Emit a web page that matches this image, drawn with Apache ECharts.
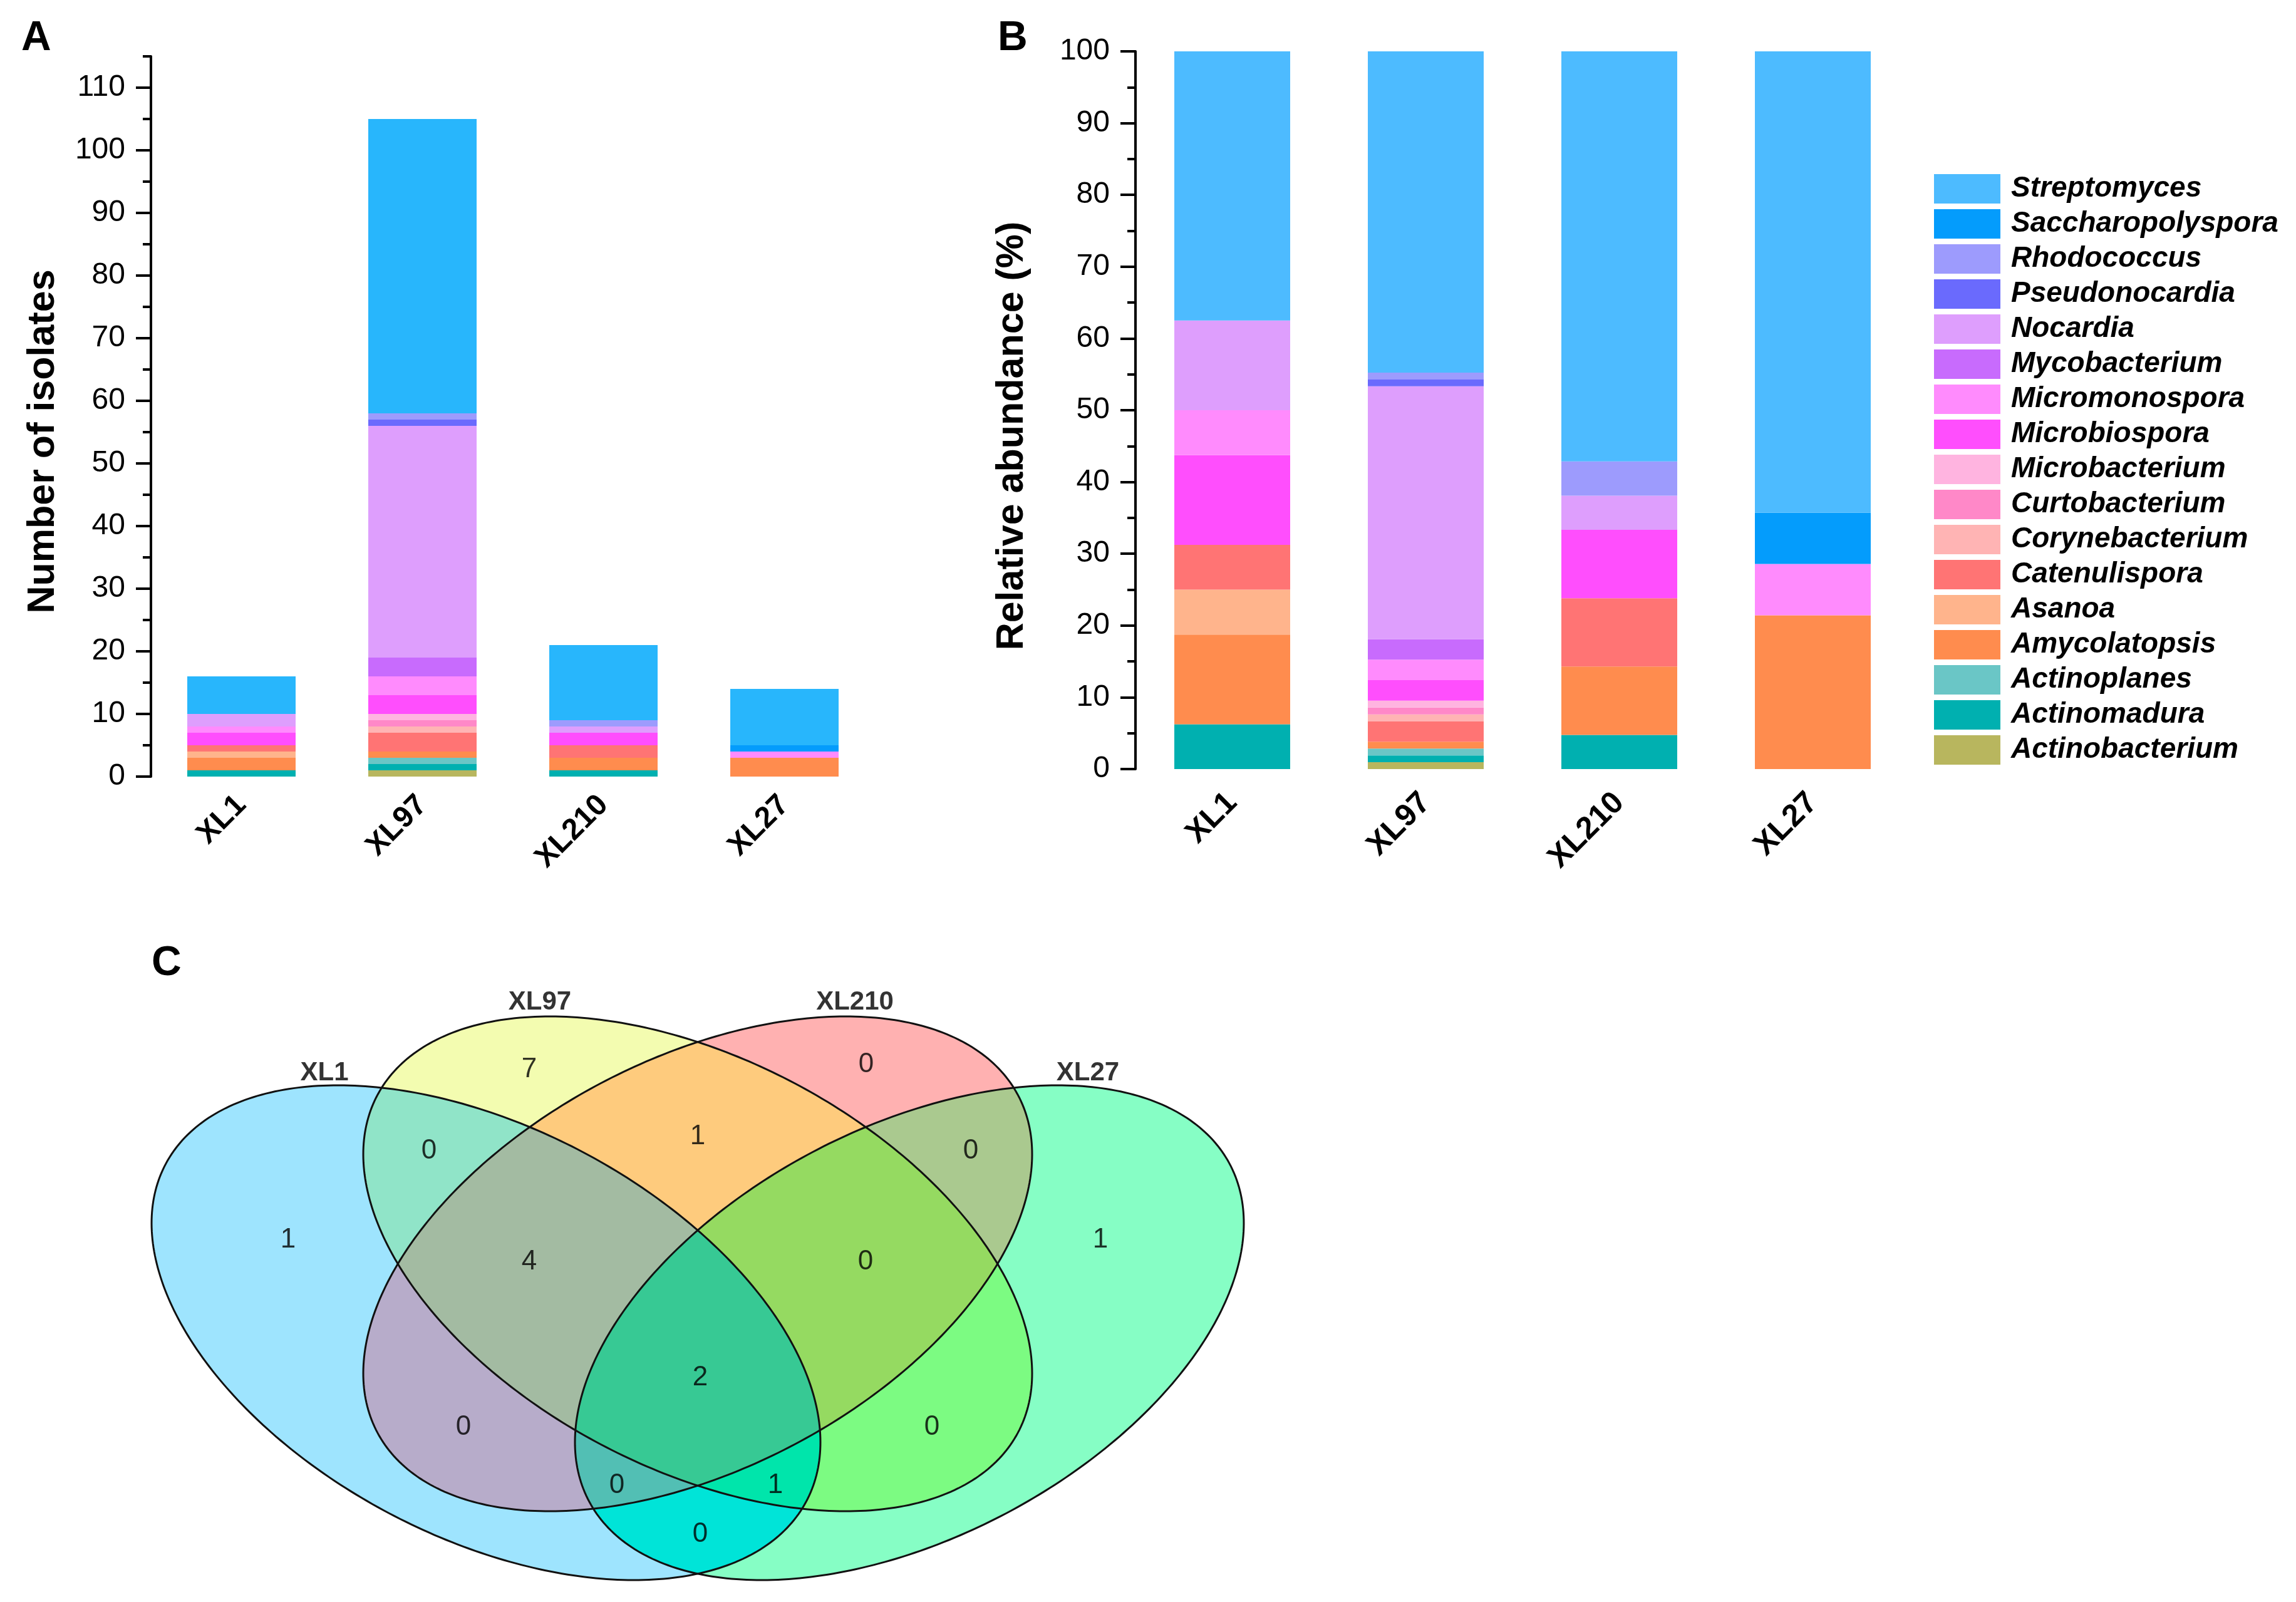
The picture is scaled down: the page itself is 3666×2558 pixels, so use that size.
<!DOCTYPE html>
<html><head><meta charset="utf-8">
<script src="https://cdn.jsdelivr.net/npm/echarts@6/dist/echarts.min.js"></script>
<style>html,body{margin:0;padding:0;background:#fff}#c{width:3666px;height:2558px}</style>
</head><body><div id="c"></div>
<script>
// ---------------- data ----------------
const samples = ['XL1', 'XL97', 'XL210', 'XL27'];
const genera = ['Actinobacterium','Actinomadura','Actinoplanes','Amycolatopsis','Asanoa','Catenulispora','Corynebacterium','Curtobacterium','Microbacterium','Microbiospora','Micromonospora','Mycobacterium','Nocardia','Pseudonocardia','Rhodococcus','Saccharopolyspora','Streptomyces'];
// number of isolates per sample (XL1, XL97, XL210, XL27)
const Actinobacterium   = [0, 1, 0, 0];
const Actinomadura      = [1, 1, 1, 0];
const Actinoplanes      = [0, 1, 0, 0];
const Amycolatopsis     = [2, 1, 2, 3];
const Asanoa            = [1, 0, 0, 0];
const Catenulispora     = [1, 3, 2, 0];
const Corynebacterium   = [0, 1, 0, 0];
const Curtobacterium    = [0, 1, 0, 0];
const Microbacterium    = [0, 1, 0, 0];
const Microbiospora     = [2, 3, 2, 0];
const Micromonospora    = [1, 3, 0, 1];
const Mycobacterium     = [0, 3, 0, 0];
const Nocardia          = [2, 37, 1, 0];
const Pseudonocardia    = [0, 1, 0, 0];
const Rhodococcus       = [0, 1, 1, 0];
const Saccharopolyspora = [0, 0, 0, 1];
const Streptomyces      = [6, 47, 12, 9];
const isolateCounts = [Actinobacterium, Actinomadura, Actinoplanes, Amycolatopsis, Asanoa, Catenulispora, Corynebacterium, Curtobacterium, Microbacterium, Microbiospora, Micromonospora, Mycobacterium, Nocardia, Pseudonocardia, Rhodococcus, Saccharopolyspora, Streptomyces];

const yTicksA = [0, 10, 20, 30, 40, 50, 60, 70, 80, 90, 100, 110];
const yTicksB = [0, 10, 20, 30, 40, 50, 60, 70, 80, 90, 100];

// Venn (shared genera)
const vennSetNames = ['XL1', 'XL97', 'XL210', 'XL27'];
const vennRegionSets = [[0],[1],[2],[3],[0,1],[1,2],[2,3],[0,1,2],[1,2,3],[0,1,2,3],[0,2],[1,3],[0,2,3],[0,1,3],[0,3]];
const vennRegionCounts = [1, 7, 0, 1, 0, 1, 0, 4, 0, 2, 0, 0, 0, 1, 0];

// ---------------- styles / layout ----------------
const FONT = "'Liberation Sans', Arial, Helvetica, sans-serif";
const NUMFONT = "'Liberation Sans Narrow', 'Arial Narrow', 'Liberation Sans', Arial, sans-serif";
const colorB = {
  Streptomyces:'#4DBBFF', Saccharopolyspora:'#049CFC', Rhodococcus:'#9D9BFD', Pseudonocardia:'#6A6AFD',
  Nocardia:'#DE9EFD', Mycobacterium:'#C86BFD', Micromonospora:'#FF8BFD', Microbiospora:'#FF4EFD',
  Microbacterium:'#FFB4E0', Curtobacterium:'#FF88C8', Corynebacterium:'#FFB4B4', Catenulispora:'#FF7474',
  Asanoa:'#FFB48C', Amycolatopsis:'#FF8C4E', Actinoplanes:'#6AC6C6', Actinomadura:'#00B0B0', Actinobacterium:'#B8B65E'
};
const colorA = Object.assign({}, colorB, { Streptomyces: '#28B6FC' });

const vennRegionColors = ['#9EE4FE','#F3FCB0','#FFB1B1','#86FEC5','#90E4C8','#FECB7D','#AAC98F','#A3BBA2','#95DA61','#37C994','#B7ACCA','#7CFB82','#52BFB4','#00E5AB','#00E4D8'];
// ellipse layout in the Venn's unit square
const vennCx = [0.331, 0.5, 0.5, 0.669];
const vennCy = [0.4957, 0.57, 0.57, 0.4957];
const vennAng = [135, 135, 45, 45];
const vennSemiA = 0.3207, vennSemiB = 0.1993;
const vennLabelPos = [[0.173,0.596],[0.3655,0.7795],[0.6345,0.785],[0.8215,0.596],[0.2855,0.6916],[0.5,0.7072],[0.718,0.6916],[0.3655,0.572],[0.634,0.572],[0.502,0.447],[0.313,0.3936],[0.687,0.3936],[0.4355,0.3308],[0.562,0.3308],[0.502,0.278]];
const vennNamePos = [[0.202,0.776],[0.374,0.852],[0.6255,0.852],[0.8115,0.776]];
const VENN_VMIN = 0.21, VENN_VMAX = 1.0, VENN_SY = 1479.6;

// ---------------- derived ----------------
const totals = samples.map((s, j) => isolateCounts.reduce((acc, arr) => acc + arr[j], 0));
const percent = isolateCounts.map(arr => arr.map((v, j) => v / totals[j] * 100));

const maskColor = {};
vennRegionSets.forEach((sets, i) => { let m = 0; sets.forEach(k => m |= (1 << k)); maskColor[m] = vennRegionColors[i]; });

const TH = vennAng.map(d => d * Math.PI / 180);
function ellipseSpan(k, v) {
  const c = Math.cos(TH[k]), s = Math.sin(TH[k]);
  const ia = 1 / (vennSemiA * vennSemiA), ib = 1 / (vennSemiB * vennSemiB);
  const A = c * c * ia + s * s * ib, B = c * s * (ia - ib), C = s * s * ia + c * c * ib;
  const dv = v - vennCy[k];
  const disc = (B * dv) * (B * dv) - A * (C * dv * dv - 1);
  if (disc <= 0) return null;
  const r = Math.sqrt(disc);
  return [vennCx[k] + (-B * dv - r) / A, vennCx[k] + (-B * dv + r) / A];
}
const Eu = Math.sqrt((vennSemiA * vennSemiA + vennSemiB * vennSemiB) / 2);
const vMin = Math.min.apply(null, vennCy) - Eu, vMax = Math.max.apply(null, vennCy) + Eu;

function renderRegions(params, api) {
  const o = api.coord([0, 0]), q = api.coord([1, 1]);
  const kx = q[0] - o[0], ky = q[1] - o[1];
  const children = [];
  const yStart = Math.floor(api.coord([0, vMax])[1]) - 1;
  const yEnd = Math.ceil(api.coord([0, vMin])[1]) + 1;
  for (let y = yStart; y <= yEnd; y++) {
    const v = (y + 0.5 - o[1]) / ky;
    const spans = [0, 1, 2, 3].map(k => ellipseSpan(k, v));
    const pts = [];
    spans.forEach(s => { if (s) pts.push(s[0], s[1]); });
    if (!pts.length) continue;
    pts.sort((a, b) => a - b);
    for (let i = 0; i < pts.length - 1; i++) {
      const u0 = pts[i], u1 = pts[i + 1];
      if (u1 - u0 <= 1e-9) continue;
      const um = (u0 + u1) / 2;
      let mask = 0;
      spans.forEach((s, k) => { if (s && um > s[0] && um < s[1]) mask |= (1 << k); });
      if (!mask) continue;
      const x0 = o[0] + u0 * kx, x1 = o[0] + u1 * kx;
      children.push({ type: 'rect', silent: true, shape: { x: x0, y: y, width: x1 - x0 + 0.6, height: 1.4 }, style: { fill: maskColor[mask] } });
    }
  }
  return { type: 'group', children: children };
}
function renderOutline(params, api) {
  const k = params.dataIndex;
  const c = Math.cos(TH[k]), s = Math.sin(TH[k]);
  const pts = [];
  for (let i = 0; i < 360; i++) {
    const t = i / 360 * Math.PI * 2;
    const u = vennCx[k] + vennSemiA * Math.cos(t) * c - vennSemiB * Math.sin(t) * s;
    const v = vennCy[k] + vennSemiA * Math.cos(t) * s + vennSemiB * Math.sin(t) * c;
    pts.push(api.coord([u, v]));
  }
  return { type: 'polygon', silent: true, shape: { points: pts }, style: { fill: 'none', stroke: '#111', lineWidth: 3 } };
}

// ---------------- option ----------------
const series = [];
genera.forEach((g, i) => {
  series.push({ type: 'bar', name: g, xAxisIndex: 0, yAxisIndex: 0, stack: 'A', barWidth: 173, data: isolateCounts[i], itemStyle: { color: colorA[g] } });
});
genera.forEach((g, i) => {
  series.push({ type: 'bar', name: g, xAxisIndex: 1, yAxisIndex: 2, stack: 'B', barWidth: 185, data: percent[i], itemStyle: { color: colorB[g] } });
});
series.push({ type: 'custom', name: 'vennFill', xAxisIndex: 2, yAxisIndex: 4, clip: false, z: 1, data: [[0.5, 0.5]], renderItem: renderRegions });
series.push({ type: 'custom', name: 'vennLine', xAxisIndex: 2, yAxisIndex: 4, clip: false, z: 2, data: vennCx.map((c, k) => [c, vennCy[k]]), renderItem: renderOutline });
series.push({ type: 'scatter', name: 'vennCounts', xAxisIndex: 2, yAxisIndex: 4, z: 3, symbolSize: 1, itemStyle: { color: 'rgba(0,0,0,0)' },
  data: vennRegionCounts.map((c, i) => [vennLabelPos[i][0], vennLabelPos[i][1], c]),
  label: { show: true, position: 'inside', formatter: p => String(p.value[2]), fontSize: 44, fontFamily: NUMFONT, color: '#000' } });
series.push({ type: 'scatter', name: 'vennNames', xAxisIndex: 2, yAxisIndex: 4, z: 3, symbolSize: 1, itemStyle: { color: 'rgba(0,0,0,0)' },
  data: vennSetNames.map((n, i) => ({ name: n, value: [vennNamePos[i][0], vennNamePos[i][1]] })),
  label: { show: true, position: 'inside', formatter: p => p.name, fontSize: 42, fontWeight: 'bold', fontFamily: FONT, color: '#000' } });

const catAxis = (grid, fs, margin) => ({
  type: 'category', gridIndex: grid, data: samples,
  axisLine: { show: false }, axisTick: { show: false },
  axisLabel: { rotate: 45, fontSize: fs, fontWeight: 'bold', fontFamily: FONT, color: '#000', margin: margin }
});
const minorAxis = (grid, max, name, gap, shift) => ({
  type: 'value', gridIndex: grid, min: 0, max: max, interval: 5, position: 'left',
  axisLine: { show: true, lineStyle: { color: '#000', width: 4 } },
  axisTick: { show: true, length: 13, lineStyle: { color: '#000', width: 4 } },
  axisLabel: { fontSize: 48, fontFamily: FONT, color: '#000', margin: 41, formatter: v => (v % 10 === 0 ? String(v) : '') },
  splitLine: { show: false },
  name: name, nameLocation: 'middle', nameRotate: 90, nameGap: gap,
  nameTextStyle: { fontSize: 61, fontWeight: 'bold', fontFamily: FONT, color: '#000', padding: [0, shift, 0, 0] }
});
const majorAxis = (grid, max, ticks) => ({
  type: 'value', gridIndex: grid, min: 0, max: max, interval: 5, position: 'left', offset: 0,
  axisLine: { show: false }, axisLabel: { show: false }, splitLine: { show: false },
  axisTick: { show: true, customValues: ticks, length: 24, lineStyle: { color: '#000', width: 4 } }
});

const vennTop = 2861.4 - VENN_VMAX * VENN_SY;
const vennHeight = (VENN_VMAX - VENN_VMIN) * VENN_SY;

const option = {
  animation: false,
  backgroundColor: '#fff',
  grid: [
    { left: 241, top: 90, width: 1156, height: 1150 },
    { left: 1813, top: 82, width: 1236, height: 1146 },
    { left: 114, top: vennTop, width: 2000, height: vennHeight }
  ],
  xAxis: [
    catAxis(0, 48, 38),
    catAxis(1, 50, 46),
    { type: 'value', gridIndex: 2, min: 0, max: 1, show: false }
  ],
  yAxis: [
    minorAxis(0, 115, 'Number of isolates', 141, 80),
    majorAxis(0, 115, yTicksA),
    minorAxis(1, 100, 'Relative abundance (%)', 166, 82),
    majorAxis(1, 100, yTicksB),
    { type: 'value', gridIndex: 2, min: VENN_VMIN, max: VENN_VMAX, show: false }
  ],
  legend: {
    orient: 'vertical', left: 3083, top: 273, itemWidth: 106, itemHeight: 47, itemGap: 9, icon: 'rect', selectedMode: false,
    textStyle: { fontSize: 46, fontWeight: 'bold', fontStyle: 'italic', fontFamily: FONT, color: '#000', padding: [0, 0, 0, 12] },
    data: genera.slice().reverse().map(g => ({ name: g, itemStyle: { color: colorB[g] } }))
  },
  graphic: [
    { type: 'text', x: 34, y: 62, style: { text: 'A', font: 'bold 66px ' + FONT, fill: '#000', verticalAlign: 'middle', align: 'left' } },
    { type: 'text', x: 1593, y: 62, style: { text: 'B', font: 'bold 66px ' + FONT, fill: '#000', verticalAlign: 'middle', align: 'left' } },
    { type: 'text', x: 242, y: 1539, style: { text: 'C', font: 'bold 66px ' + FONT, fill: '#000', verticalAlign: 'middle', align: 'left' } }
  ],
  series: series
};

const chart = echarts.init(document.getElementById('c'), null, { renderer: 'canvas' });
chart.setOption(option);
</script>
</body></html>
